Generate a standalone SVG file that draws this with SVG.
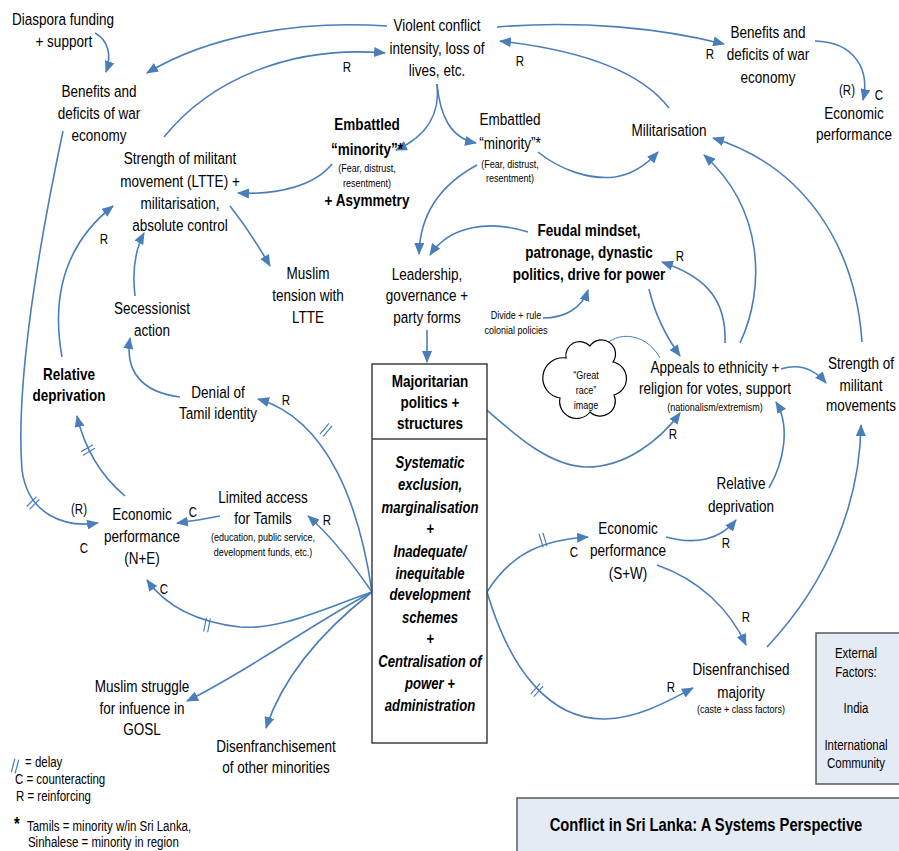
<svg xmlns="http://www.w3.org/2000/svg" width="899" height="851" viewBox="0 0 899 851">
  <defs>
    <style>
      text { font-family: "Liberation Sans", Arial, sans-serif; fill: #000; text-anchor: middle; }
      .t { font-size: 16.5px; }
      .b { font-size: 16.5px; font-weight: bold; }
      .bi { font-size: 16px; font-weight: bold; font-style: italic; }
      .s { font-size: 11px; }
      .l { font-size: 14px; }
      .e { font-size: 14px; transform-box: fill-box; transform-origin: center; transform: scaleX(0.82); }
      .lg { font-size: 14px; text-anchor: start; }
      .c { fill: none; stroke: #4a7ebb; stroke-width: 1.6; marker-end: url(#ah); }
      .thin { fill: none; stroke: #4a7ebb; stroke-width: 1; }
      .dl { stroke: #4a7ebb; stroke-width: 1.2; fill: none; }
      .box { fill: #fff; stroke: #404040; stroke-width: 1.5; }
      .panel { fill: #e4ebf5; stroke: #595959; stroke-width: 1.5; }
    </style>
    <marker id="ah" viewBox="0 0 12 10" refX="11" refY="5" markerWidth="12" markerHeight="10" markerUnits="userSpaceOnUse" orient="auto">
      <path d="M0,0 L12,5 L0,10 z" fill="#4a7ebb"/>
    </marker>
    <!-- delay mark: two short strokes across a connector -->
    <g id="delay">
      <path class="dl" d="M-2,-7 L-2,7 M2,-7 L2,7"/>
    </g>
  </defs>

  <!-- connectors -->
  <g id="connectors">
    <path class="c" d="M95,33 C108,40 112,55 106,72"/>
    <path class="c" d="M387,26 C300,20 210,35 147,73"/>
    <path class="c" d="M164,137 C210,80 290,45 385,53"/>
    <path class="c" d="M497,27 C580,20 660,28 724,44"/>
    <path class="c" d="M669,108 C640,70 580,50 500,41"/>
    <path class="c" d="M815,41 C855,42 870,70 863,100"/>
    <path class="c" d="M437,84 C440,110 430,135 396,150"/>
    <path class="c" d="M437,84 C440,115 450,138 476,143"/>
    <path class="c" d="M332,164 C315,185 280,195 238,193"/>
    <path class="c" d="M538,152 C560,170 590,180 615,177 C635,174 648,163 658,152"/>
    <path class="c" d="M477,165 C440,185 420,215 419,254"/>
    <path class="c" d="M528,232 C490,220 450,225 430,255"/>
    <path class="c" d="M427,330 L427,362"/>
    <path class="c" d="M543,318 C565,318 582,308 588,290"/>
    <path class="c" d="M649,289 C655,315 665,335 680,356"/>
    <path class="c" d="M725,343 C727,295 700,275 662,262"/>
    <path class="c" d="M740,343 C765,290 765,210 704,155"/>
    <path class="c" d="M862,342 C855,240 800,165 713,138"/>
    <path class="c" d="M781,369 C800,363 815,370 826,383"/>
    <path class="thin" d="M600,353 C610,330 645,330 660,358"/>
    <path class="c" d="M473,398 C510,430 545,465 585,467 C625,468 660,440 680,413"/>
    <path class="c" d="M769,488 C785,460 790,425 776,402"/>
    <path class="c" d="M666,537 C695,545 720,540 736,520"/>
    <path class="c" d="M657,565 C700,580 730,610 746,645"/>
    <path class="c" d="M767,647 C830,580 860,500 861,425"/>
    <path class="c" d="M487,592 C510,555 540,540 588,537"/>
    <path class="c" d="M487,592 C510,670 550,720 605,719 C640,718 670,700 693,688"/>
    <path class="c" d="M372,592 C360,510 330,420 258,399"/>
    <path class="c" d="M372,592 C350,560 330,535 308,516"/>
    <path class="c" d="M372,592 C320,610 280,630 240,627 C195,622 165,605 147,580"/>
    <path class="c" d="M372,592 C310,625 250,670 187,701"/>
    <path class="c" d="M372,592 C330,625 285,670 266,728"/>
    <path class="c" d="M220,516 C205,519 192,521 177,523"/>
    <path class="c" d="M125,496 C100,475 85,450 77,416"/>
    <path class="c" d="M62,357 C50,290 70,240 113,206"/>
    <path class="c" d="M135,296 C132,270 135,250 144,233"/>
    <path class="c" d="M180,397 C140,392 125,370 130,338"/>
    <path class="c" d="M230,206 C245,225 258,245 270,266"/>
    <path class="c" d="M63,131 C40,240 15,380 22,470 C28,515 65,528 98,523"/>

    <!-- delay marks -->
    <use href="#delay" transform="translate(33,503) rotate(45)"/>
    <use href="#delay" transform="translate(88,450) rotate(60)"/>
    <use href="#delay" transform="translate(326,430) rotate(40)"/>
    <use href="#delay" transform="translate(207,625) rotate(11)"/>
    <use href="#delay" transform="translate(543,540) rotate(-17)"/>
    <use href="#delay" transform="translate(537,690) rotate(42)"/>

    <!-- loop labels -->
    <text class="e" x="347" y="72">R</text>
    <text class="e" x="520" y="66">R</text>
    <text class="e" x="710" y="59">R</text>
    <text class="e" x="847" y="95">(R)</text>
    <text class="e" x="879" y="100">C</text>
    <text class="e" x="104" y="244">R</text>
    <text class="e" x="680" y="261">R</text>
    <text class="e" x="286" y="405">R</text>
    <text class="e" x="673" y="439">R</text>
    <text class="e" x="726" y="548">R</text>
    <text class="e" x="746" y="622">R</text>
    <text class="e" x="671" y="692">R</text>
    <text class="e" x="574" y="557">C</text>
    <text class="e" x="79" y="514">(R)</text>
    <text class="e" x="84" y="553">C</text>
    <text class="e" x="193" y="517">C</text>
    <text class="e" x="164" y="594">C</text>
    <text class="e" x="327" y="525">R</text>
  </g>

  <!-- node labels are set in a narrowed sans: each text block is scaled horizontally round its centre line -->
  <g id="n-diaspora">
    <g transform="translate(63,0) scale(0.82,1)">
      <text class="t" x="0" y="25">Diaspora funding</text>
      <text class="t" x="1" y="47">+ support</text>
    </g>
  </g>
  <g id="n-benefits-left">
    <g transform="translate(99,0) scale(0.82,1)">
      <text class="t" x="0" y="97">Benefits and</text>
      <text class="t" x="0" y="119">deficits of war</text>
      <text class="t" x="0" y="141">economy</text>
    </g>
  </g>
  <g id="n-violent-conflict">
    <g transform="translate(437,0) scale(0.82,1)">
      <text class="t" x="0" y="31">Violent conflict</text>
      <text class="t" x="0" y="54">intensity, loss of</text>
      <text class="t" x="0" y="76">lives, etc.</text>
    </g>
  </g>
  <g id="n-benefits-right">
    <g transform="translate(768,0) scale(0.82,1)">
      <text class="t" x="0" y="38">Benefits and</text>
      <text class="t" x="0" y="60">deficits of war</text>
      <text class="t" x="0" y="83">economy</text>
    </g>
  </g>
  <g id="n-economic-top">
    <g transform="translate(854,0) scale(0.82,1)">
      <text class="t" x="0" y="119">Economic</text>
      <text class="t" x="0" y="140">performance</text>
    </g>
  </g>
  <g id="n-militarisation">
    <g transform="translate(669,0) scale(0.82,1)">
      <text class="t" x="0" y="136">Militarisation</text>
    </g>
  </g>
  <g id="n-strength-ltte">
    <g transform="translate(180,0) scale(0.82,1)">
      <text class="t" x="0" y="164">Strength of militant</text>
      <text class="t" x="0" y="187">movement (LTTE) +</text>
      <text class="t" x="0" y="209">militarisation,</text>
      <text class="t" x="0" y="231">absolute control</text>
    </g>
  </g>
  <g id="n-embattled-left">
    <g transform="translate(367,0) scale(0.82,1)">
      <text class="b" x="0" y="130">Embattled</text>
      <text class="b" x="0" y="155">“minority”*</text>
      <text class="s" x="0" y="172">(Fear, distrust,</text>
      <text class="s" x="0" y="187">resentment)</text>
      <text class="b" x="0" y="206">+ Asymmetry</text>
    </g>
  </g>
  <g id="n-embattled-right">
    <g transform="translate(510,0) scale(0.82,1)">
      <text class="t" x="0" y="125">Embattled</text>
      <text class="t" x="0" y="149">“minority”*</text>
      <text class="s" x="0" y="168">(Fear, distrust,</text>
      <text class="s" x="0" y="182">resentment)</text>
    </g>
  </g>
  <g id="n-feudal">
    <g transform="translate(589,0) scale(0.82,1)">
      <text class="b" x="0" y="236">Feudal mindset,</text>
      <text class="b" x="0" y="258">patronage, dynastic</text>
      <text class="b" x="0" y="280">politics, drive for power</text>
    </g>
  </g>
  <g id="n-leadership">
    <g transform="translate(427,0) scale(0.82,1)">
      <text class="t" x="0" y="280">Leadership,</text>
      <text class="t" x="0" y="301">governance +</text>
      <text class="t" x="0" y="323">party forms</text>
    </g>
  </g>
  <g id="n-divide-rule">
    <g transform="translate(516,0) scale(0.82,1)">
      <text class="s" x="0" y="319">Divide + rule</text>
      <text class="s" x="0" y="334">colonial policies</text>
    </g>
  </g>
  <g id="n-great-race">
    <path d="M566,358 A14,14 0 0 1 590,346 A14,14 0 0 1 613,362 A17,17 0 0 1 614,395 A15,15 0 0 1 590,412 A17,17 0 0 1 560,398 A20,20 0 0 1 566,358 Z" fill="#fff" stroke="#000" stroke-width="1.2"/>
    <g transform="translate(586,0) scale(0.82,1)">
      <text class="s" x="0" y="379">“Great</text>
      <text class="s" x="0" y="394">race”</text>
      <text class="s" x="0" y="409">image</text>
    </g>
  </g>
  <g id="n-appeals">
    <g transform="translate(715,0) scale(0.82,1)">
      <text class="t" x="0" y="373">Appeals to ethnicity +</text>
      <text class="t" x="0" y="394">religion for votes, support</text>
      <text class="s" x="0" y="411">(nationalism/extremism)</text>
    </g>
  </g>
  <g id="n-strength-movements">
    <g transform="translate(861,0) scale(0.82,1)">
      <text class="t" x="0" y="369">Strength of</text>
      <text class="t" x="0" y="391">militant</text>
      <text class="t" x="0" y="411">movements</text>
    </g>
  </g>
  <g id="n-majoritarian">
    <rect class="box" x="372" y="364" width="115" height="379"/>
    <line x1="372" y1="439" x2="487" y2="439" stroke="#404040" stroke-width="1.5"/>
    <g transform="translate(430,0) scale(0.82,1)">
      <text class="b" x="0" y="387">Majoritarian</text>
      <text class="b" x="0" y="408">politics +</text>
      <text class="b" x="0" y="429">structures</text>
      <text class="bi" x="0" y="468">Systematic</text>
      <text class="bi" x="0" y="490">exclusion,</text>
      <text class="bi" x="0" y="513">marginalisation</text>
      <text class="bi" x="0" y="534">+</text>
      <text class="bi" x="0" y="557">Inadequate/</text>
      <text class="bi" x="0" y="579">inequitable</text>
      <text class="bi" x="0" y="600">development</text>
      <text class="bi" x="0" y="623">schemes</text>
      <text class="bi" x="0" y="644">+</text>
      <text class="bi" x="0" y="667">Centralisation of</text>
      <text class="bi" x="0" y="689">power +</text>
      <text class="bi" x="0" y="711">administration</text>
    </g>
  </g>
  <g id="n-reldep-right">
    <g transform="translate(741,0) scale(0.82,1)">
      <text class="t" x="0" y="489">Relative</text>
      <text class="t" x="0" y="512">deprivation</text>
    </g>
  </g>
  <g id="n-economic-sw">
    <g transform="translate(628,0) scale(0.82,1)">
      <text class="t" x="0" y="534">Economic</text>
      <text class="t" x="0" y="556">performance</text>
      <text class="t" x="0" y="579">(S+W)</text>
    </g>
  </g>
  <g id="n-disenfranchised-majority">
    <g transform="translate(741,0) scale(0.82,1)">
      <text class="t" x="0" y="675">Disenfranchised</text>
      <text class="t" x="0" y="698">majority</text>
      <text class="s" x="0" y="713">(caste + class factors)</text>
    </g>
  </g>
  <g id="n-external">
    <rect class="panel" x="816" y="633" width="100" height="151"/>
    <g transform="translate(856,0) scale(0.82,1)">
      <text class="l" x="0" y="658">External</text>
      <text class="l" x="0" y="677">Factors:</text>
      <text class="l" x="0" y="713">India</text>
      <text class="l" x="0" y="750">International</text>
      <text class="l" x="0" y="768">Community</text>
    </g>
  </g>
  <g id="title">
    <rect class="panel" x="517" y="798" width="400" height="80"/>
    <g transform="translate(706,0) scale(0.82,1)">
      <text x="0" y="831" style="font-size:18px;font-weight:bold">Conflict in Sri Lanka: A Systems Perspective</text>
    </g>
  </g>
  <g id="n-muslim-tension">
    <g transform="translate(308,0) scale(0.82,1)">
      <text class="t" x="0" y="279">Muslim</text>
      <text class="t" x="0" y="301">tension with</text>
      <text class="t" x="0" y="323">LTTE</text>
    </g>
  </g>
  <g id="n-secessionist">
    <g transform="translate(152,0) scale(0.82,1)">
      <text class="t" x="0" y="314">Secessionist</text>
      <text class="t" x="0" y="336">action</text>
    </g>
  </g>
  <g id="n-reldep-left">
    <g transform="translate(69,0) scale(0.82,1)">
      <text class="b" x="0" y="380">Relative</text>
      <text class="b" x="0" y="401">deprivation</text>
    </g>
  </g>
  <g id="n-denial">
    <g transform="translate(218,0) scale(0.82,1)">
      <text class="t" x="0" y="398">Denial of</text>
      <text class="t" x="0" y="419">Tamil identity</text>
    </g>
  </g>
  <g id="n-economic-ne">
    <g transform="translate(142,0) scale(0.82,1)">
      <text class="t" x="0" y="520">Economic</text>
      <text class="t" x="0" y="542">performance</text>
      <text class="t" x="0" y="564">(N+E)</text>
    </g>
  </g>
  <g id="n-limited-access">
    <g transform="translate(263,0) scale(0.82,1)">
      <text class="t" x="0" y="503">Limited access</text>
      <text class="t" x="0" y="524">for Tamils</text>
      <text class="s" x="0" y="541">(education, public service,</text>
      <text class="s" x="0" y="556">development funds, etc.)</text>
    </g>
  </g>
  <g id="n-muslim-struggle">
    <g transform="translate(142,0) scale(0.82,1)">
      <text class="t" x="0" y="692">Muslim struggle</text>
      <text class="t" x="0" y="714">for infuence in</text>
      <text class="t" x="0" y="735">GOSL</text>
    </g>
  </g>
  <g id="n-disenfranchisement-other">
    <g transform="translate(276,0) scale(0.82,1)">
      <text class="t" x="0" y="752">Disenfranchisement</text>
      <text class="t" x="0" y="773">of other minorities</text>
    </g>
  </g>
  <g id="legend">
    <use href="#delay" transform="translate(15,766) rotate(15)"/>
    <g transform="scale(0.82,1)">
      <text class="lg" x="30.5" y="767">= delay</text>
      <text class="lg" x="18.3" y="784">C = counteracting</text>
      <text class="lg" x="19.5" y="801">R = reinforcing</text>
      <text class="lg" x="17" y="830" style="font-size:18px;font-weight:bold">*</text>
      <text class="lg" x="32.9" y="831">Tamils = minority w/in Sri Lanka,</text>
      <text class="lg" x="34.1" y="847">Sinhalese = minority in region</text>
    </g>
  </g>
</svg>
